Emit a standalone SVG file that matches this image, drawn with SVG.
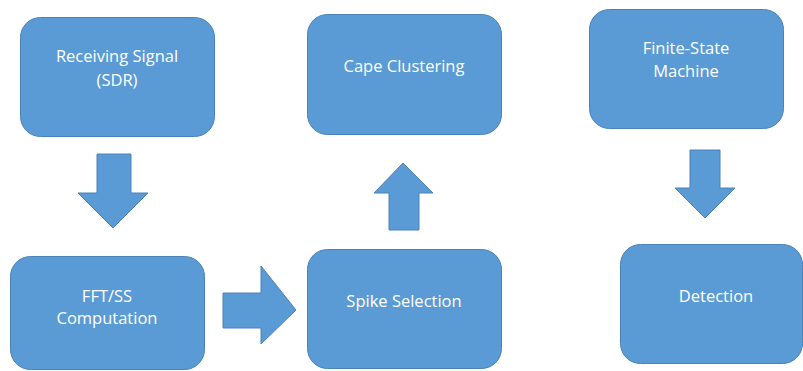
<svg xmlns="http://www.w3.org/2000/svg" width="803" height="371" viewBox="0 0 803 371">
<style>
.box{fill:#5b9bd5;stroke:#4a82b8;stroke-width:1}
.arr{fill:#5b9bd5;stroke:#4a82b8;stroke-width:1}
.t{font-family:"Open Sans","Liberation Sans",sans-serif;font-size:16.5px;fill:#ffffff;text-anchor:middle}
</style>
<rect width="803" height="371" fill="#ffffff"/>
<g id="n-receiving">
<rect class="box" x="20.5" y="17.5" width="194" height="119" rx="20"/>
<text class="t" x="117" y="62">Receiving Signal</text>
<text class="t" x="117" y="86">(SDR)</text>
</g>
<g id="n-fft">
<rect class="box" x="10.5" y="256.5" width="194" height="113" rx="20"/>
<text class="t" x="107" y="302">FFT/SS</text>
<text class="t" x="107" y="324">Computation</text>
</g>
<g id="n-spike">
<rect class="box" x="307.5" y="249.5" width="194" height="119" rx="20"/>
<text class="t" x="404" y="307">Spike Selection</text>
</g>
<g id="n-cape">
<rect class="box" x="307.5" y="14.5" width="194" height="120" rx="20"/>
<text class="t" x="404" y="72">Cape Clustering</text>
</g>
<g id="n-fsm">
<rect class="box" x="589.5" y="9.5" width="194" height="119" rx="20"/>
<text class="t" x="686" y="54">Finite-State</text>
<text class="t" x="686" y="77">Machine</text>
</g>
<g id="n-detection">
<rect class="box" x="620.5" y="244.5" width="182" height="119" rx="20"/>
<text class="t" x="716" y="302">Detection</text>
</g>
<g id="connectors">
<polygon class="arr" points="97,154 131,154 131,193 148,193 113,228 78,193 97,193"/>
<polygon class="arr" points="223,293 261,293 261,266 296,310 261,344 261,328 223,328"/>
<polygon class="arr" points="389,230 419,230 419,193 433,193 403,163 374,193 389,193"/>
<polygon class="arr" points="690,150 720,150 720,188 735,188 705,218 675,188 690,188"/>
</g>
</svg>
